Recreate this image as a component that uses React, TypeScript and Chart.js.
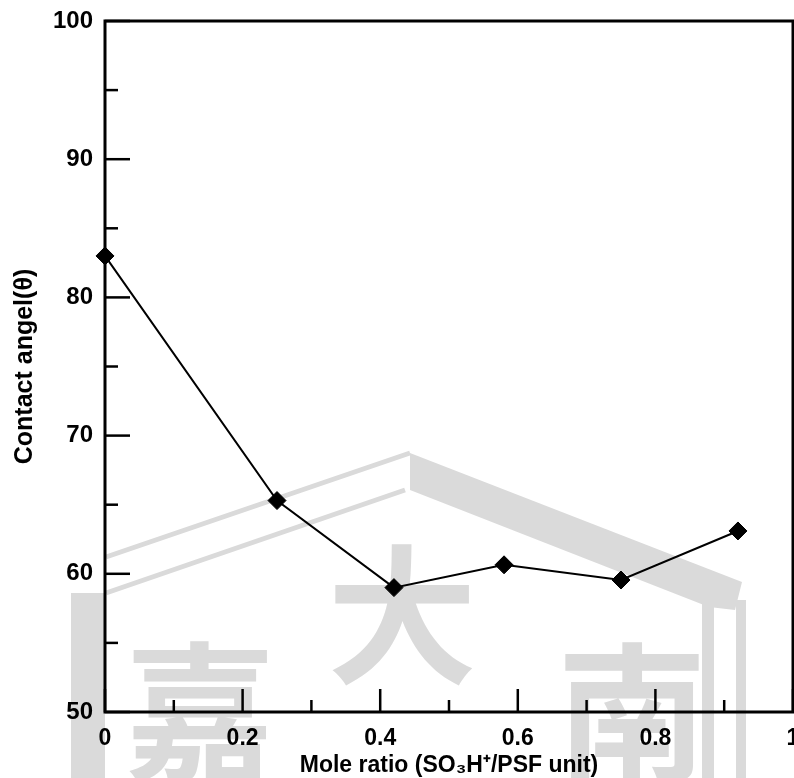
import React, { useEffect, useRef } from "react";
import { Chart, registerables } from "chart.js";

Chart.register(...registerables);

// ---- data ----
const moleRatio = [0, 0.25, 0.42, 0.58, 0.75, 0.92];
const contactAngle = [83, 65.3, 59.0, 60.65, 59.55, 63.1];
const xMajorTicks = [0, 0.2, 0.4, 0.6, 0.8, 1];
const xMinorTicks = [0.1, 0.3, 0.5, 0.7, 0.9];
const yMajorTicks = [50, 60, 70, 80, 90, 100];
const yMinorTicks = [55, 65, 75, 85, 95];
const xTitle = "Mole ratio (SO\u2083H\u207A/PSF unit)";
const yTitle = "Contact angel(\u03B8)";
const watermarkChars = ["嘉", "大", "南"];

const FONT = "'Liberation Sans', Arial, Helvetica, sans-serif";

const watermarkPlugin = {
  id: "watermark",
  beforeDraw(chart: any) {
    const ctx = chart.ctx;
    ctx.save();
    ctx.fillStyle = "#ffffff";
    ctx.fillRect(0, 0, chart.width, chart.height);
    const g = "#dadada";
    ctx.fillStyle = g;
    ctx.strokeStyle = g;
    // left pillar
    ctx.fillRect(71, 593, 34, 185);
    // roof outlines (left)
    ctx.lineWidth = 5;
    ctx.beginPath();
    ctx.moveTo(106, 557);
    ctx.lineTo(410, 453);
    ctx.moveTo(106, 593);
    ctx.lineTo(405, 490);
    ctx.stroke();
    // roof band (right)
    ctx.beginPath();
    ctx.moveTo(410, 453);
    ctx.lineTo(742, 582);
    ctx.lineTo(735, 610);
    ctx.lineTo(709, 607);
    ctx.lineTo(410, 490);
    ctx.closePath();
    ctx.fill();
    // right pillars
    ctx.fillRect(702, 600, 12, 178);
    ctx.fillRect(736, 600, 10, 178);
    // characters
    ctx.font = "bold 150px 'Noto Sans CJK TC', 'Noto Sans CJK SC', sans-serif";
    ctx.textAlign = "center";
    ctx.textBaseline = "middle";
    ctx.fillText(watermarkChars[0], 200, 712);
    ctx.fillText(watermarkChars[1], 402, 615);
    ctx.fillText(watermarkChars[2], 632, 712);
    ctx.restore();
  },
};

const framePlugin = {
  id: "frameTicks",
  beforeDatasetsDraw(chart: any) {
    const { ctx, chartArea } = chart;
    const xs = chart.scales.x;
    const ys = chart.scales.y;
    const { left, right, top, bottom } = chartArea;
    ctx.save();
    ctx.strokeStyle = "#000000";
    ctx.lineWidth = 2.5;
    ctx.lineCap = "butt";
    const tick = (x1: number, y1: number, x2: number, y2: number) => {
      ctx.beginPath();
      ctx.moveTo(x1, y1);
      ctx.lineTo(x2, y2);
      ctx.stroke();
    };
    xMajorTicks.forEach((v) => {
      const px = xs.getPixelForValue(v);
      tick(px, bottom, px, bottom - 23);
    });
    xMinorTicks.forEach((v) => {
      const px = xs.getPixelForValue(v);
      tick(px, bottom, px, bottom - 12);
    });
    yMajorTicks.forEach((v) => {
      const py = ys.getPixelForValue(v);
      tick(left, py, left + 25, py);
    });
    yMinorTicks.forEach((v) => {
      const py = ys.getPixelForValue(v);
      tick(left, py, left + 13, py);
    });
    ctx.lineWidth = 3;
    ctx.beginPath();
    ctx.moveTo(left, top);
    ctx.lineTo(right, top);
    ctx.lineTo(right, bottom);
    ctx.lineTo(left, bottom);
    ctx.closePath();
    ctx.stroke();
    ctx.restore();
  },
};

export default function App() {
  const canvasRef = useRef<HTMLCanvasElement | null>(null);

  useEffect(() => {
    if (!canvasRef.current) return;
    const chart = new Chart(canvasRef.current, {
      type: "scatter",
      data: {
        datasets: [
          {
            data: moleRatio.map((x, i) => ({ x, y: contactAngle[i] })),
            showLine: true,
            borderColor: "#000000",
            borderWidth: 2,
            backgroundColor: "#000000",
            pointStyle: "rectRot",
            pointRadius: 9,
            pointHoverRadius: 9,
            pointBorderWidth: 1,
            pointBackgroundColor: "#000000",
            pointBorderColor: "#000000",
            clip: false,
          } as any,
        ],
      },
      options: {
        responsive: false,
        animation: false,
        events: [],
        layout: { autoPadding: false, padding: { left: 0, top: 21, right: 1, bottom: 0 } },
        plugins: {
          legend: { display: false },
          tooltip: { enabled: false },
        },
        scales: {
          x: {
            type: "linear",
            min: 0,
            max: 1,
            afterFit(scale: any) {
              scale.height = 66;
              scale.paddingLeft = 0;
              scale.paddingRight = 0;
            },
            afterBuildTicks(scale: any) {
              scale.ticks = xMajorTicks.map((v) => ({ value: v }));
            },
            grid: { display: false, drawTicks: false },
            border: { display: false },
            ticks: {
              padding: 13,
              color: "#000000",
              maxRotation: 0,
              autoSkip: false,
              font: { family: FONT, size: 23, weight: "bold" },
              callback: (v: any) => String(Number(v)),
            },
            title: {
              display: true,
              text: xTitle,
              color: "#000000",
              font: { family: FONT, size: 23, weight: "bold", lineHeight: 1.1 },
              padding: { top: 0, bottom: 0 },
            },
          },
          y: {
            type: "linear",
            min: 50,
            max: 100,
            afterFit(scale: any) {
              scale.width = 105;
              scale.paddingTop = 0;
              scale.paddingBottom = 0;
            },
            afterBuildTicks(scale: any) {
              scale.ticks = yMajorTicks.map((v) => ({ value: v }));
            },
            grid: { display: false, drawTicks: false },
            border: { display: false },
            ticks: {
              padding: 12,
              color: "#000000",
              autoSkip: false,
              font: { family: FONT, size: 24, weight: "bold" },
              callback: (v: any) => String(v),
            },
            title: {
              display: true,
              text: yTitle,
              color: "#000000",
              font: { family: FONT, size: 25, weight: "bold", lineHeight: 1.2 },
              padding: { top: 10, bottom: 0 },
            },
          },
        },
      } as any,
      plugins: [watermarkPlugin, framePlugin],
    });
    return () => chart.destroy();
  }, []);

  return (
    <div style={{ position: "fixed", left: 0, top: 0, width: 794, height: 778, background: "#fff" }}>
      <canvas ref={canvasRef} width={794} height={778} style={{ display: "block" }} />
    </div>
  );
}
